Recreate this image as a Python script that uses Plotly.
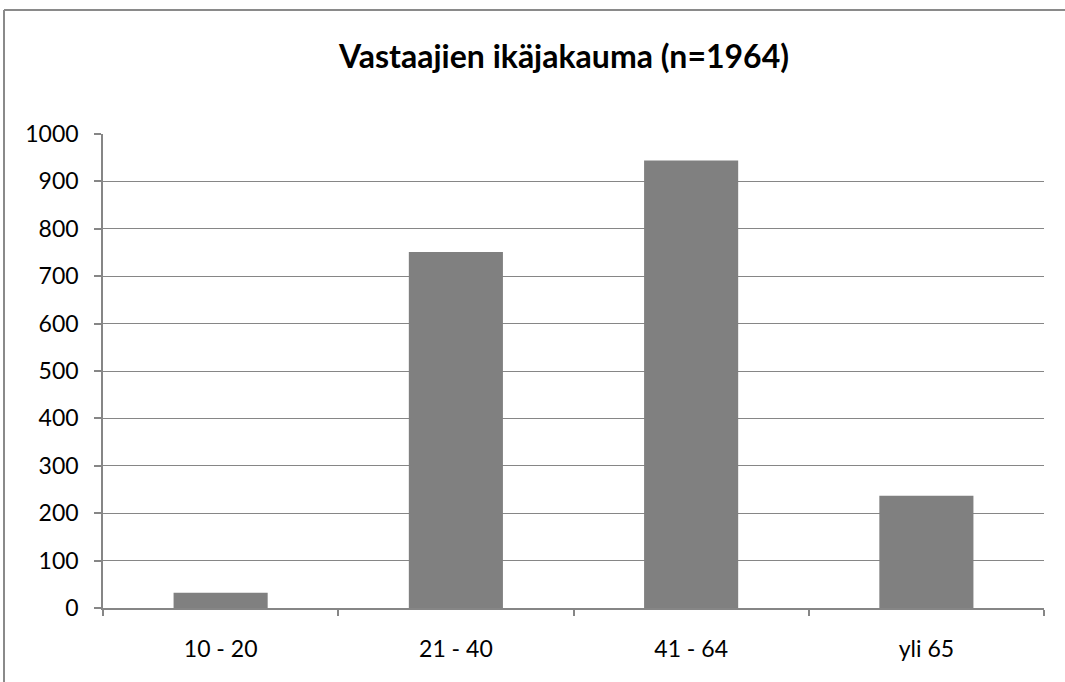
import plotly.graph_objects as go

categories = ["10 - 20", "21 - 40", "41 - 64", "yli 65"]
counts = [32, 751, 944, 237]
title_text = "Vastaajien ikäjakauma (n=1964)"
y_ticks = [0, 100, 200, 300, 400, 500, 600, 700, 800, 900, 1000]

W, H = 1065, 682
L, R, T, B = 103, 1044, 134, 608  # plot area in pixels

def px_x(p):
    return (p - L) / (R - L)

def px_y(p):
    return (B - p) / (B - T)

FONT = "Lato"
GRAY = "#868686"

fig = go.Figure()
fig.add_trace(go.Bar(
    x=categories, y=counts, width=0.4,
    marker=dict(color="#808080", line=dict(width=0)),
    hoverinfo="x+y",
))

fig.update_layout(
    width=W, height=H,
    margin=dict(l=L, r=W - R, t=T, b=H - B, pad=0),
    paper_bgcolor="white", plot_bgcolor="white",
    showlegend=False,
    title=dict(text="<b>" + title_text + "</b>", x=564 / W, xanchor="center",
               y=1 - 57 / H, yanchor="middle",
               font=dict(family=FONT, size=32, color="black")),
    font=dict(family=FONT, size=23, color="black"),
    bargap=0.6,
)

fig.update_xaxes(
    type="category", range=[-0.5, 3.5],
    showline=True, linecolor=GRAY, linewidth=1.5,
    ticks="outside", tickson="boundaries", ticklen=6, tickcolor=GRAY, tickwidth=1.5,
    showgrid=False, ticklabelstandoff=20,
    tickfont=dict(family=FONT, size=23, color="black"),
)
fig.update_yaxes(
    range=[0, 1000], tickvals=y_ticks,
    showline=True, linecolor=GRAY, linewidth=1.5,
    ticks="outside", ticklen=7, tickcolor=GRAY, tickwidth=1.5,
    showgrid=True, gridcolor=GRAY, gridwidth=1.4,
    zeroline=False, ticklabelstandoff=11,
    tickfont=dict(family=FONT, size=23, color="black"),
)

# outer chart-area border: only left and top edges are visible in the frame
border = dict(color="#8a8a8a", width=2)
fig.add_shape(type="line", xref="paper", yref="paper",
              x0=px_x(4), x1=px_x(4), y0=px_y(H + 5), y1=px_y(10), line=border)
fig.add_shape(type="line", xref="paper", yref="paper",
              x0=px_x(4), x1=px_x(W + 5), y0=px_y(10), y1=px_y(10), line=border)

fig.write_html(
    "out.html",
    config={"displayModeBar": False},
    post_script="document.body.style.margin='0';document.body.style.overflow='hidden';",
)
